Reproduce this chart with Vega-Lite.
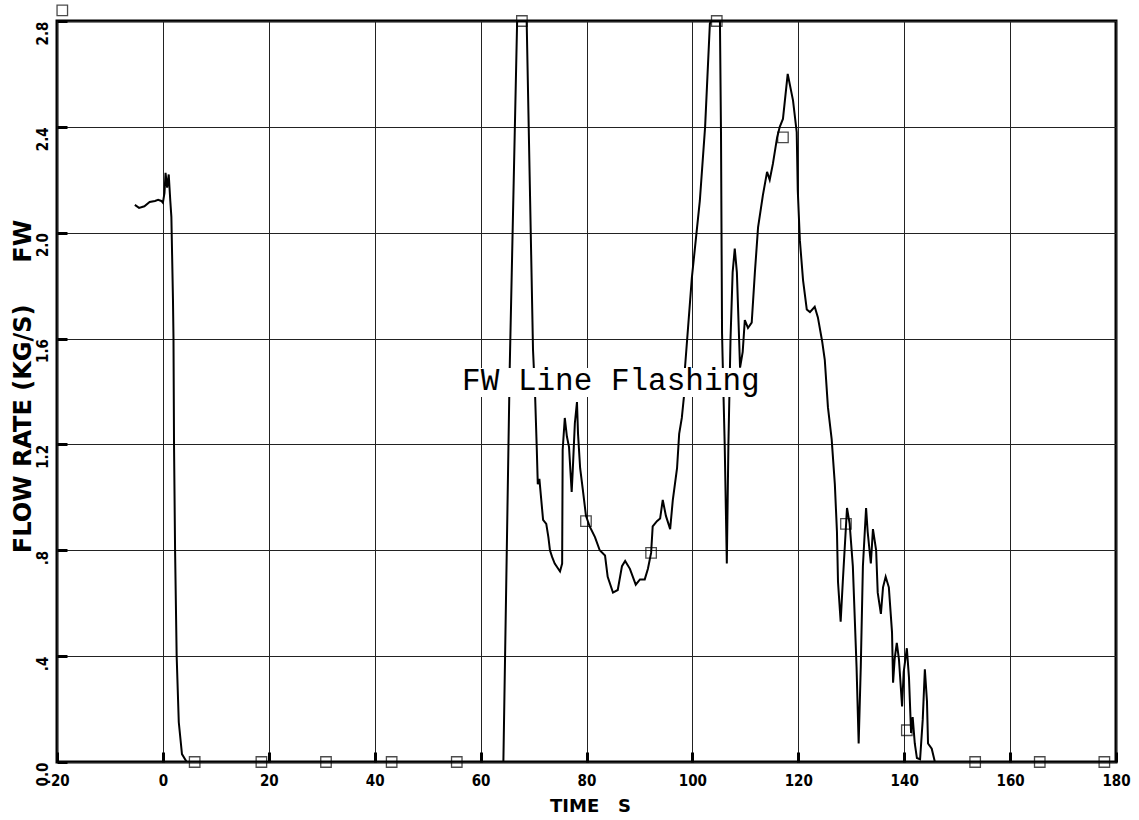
{
  "$schema": "https://vega.github.io/schema/vega-lite/v6.json",
  "width": 1059,
  "height": 741,
  "autosize": "none",
  "padding": {"left": 57, "top": 21, "right": 23, "bottom": 58},
  "background": "white",
  "config": {
    "view": {"stroke": "black", "strokeWidth": 3},
    "font": "DejaVu Sans"
  },
  "datasets": {
    "curve": [
      {"t": -5.3, "fw": 2.105}, {"t": -4.5, "fw": 2.094}, {"t": -3.5, "fw": 2.10}, {"t": -2.5, "fw": 2.116},
      {"t": -1.5, "fw": 2.12}, {"t": -0.9, "fw": 2.124}, {"t": -0.3, "fw": 2.12}, {"t": 0.0, "fw": 2.113},
      {"t": 0.3, "fw": 2.15}, {"t": 0.5, "fw": 2.226}, {"t": 0.8, "fw": 2.17}, {"t": 1.1, "fw": 2.22},
      {"t": 1.4, "fw": 2.12}, {"t": 1.6, "fw": 2.06}, {"t": 1.9, "fw": 1.75}, {"t": 2.0, "fw": 1.6},
      {"t": 2.1, "fw": 1.2}, {"t": 2.3, "fw": 0.8}, {"t": 2.6, "fw": 0.4}, {"t": 3.0, "fw": 0.15},
      {"t": 3.6, "fw": 0.03}, {"t": 4.5, "fw": 0.0}, {"t": 18.6, "fw": 0.0}, {"t": 43.2, "fw": 0.0},
      {"t": 64.3, "fw": 0.0}, {"t": 65.5, "fw": 1.49}, {"t": 66.9, "fw": 2.8}, {"t": 68.7, "fw": 2.8},
      {"t": 69.9, "fw": 1.557}, {"t": 70.3, "fw": 1.38}, {"t": 70.6, "fw": 1.19}, {"t": 70.8, "fw": 1.05},
      {"t": 71.1, "fw": 1.07}, {"t": 71.8, "fw": 0.915}, {"t": 72.4, "fw": 0.90}, {"t": 72.8, "fw": 0.85},
      {"t": 73.1, "fw": 0.80}, {"t": 73.5, "fw": 0.775}, {"t": 74.0, "fw": 0.75}, {"t": 75.0, "fw": 0.72},
      {"t": 75.4, "fw": 0.75}, {"t": 75.5, "fw": 1.18}, {"t": 75.9, "fw": 1.30}, {"t": 76.3, "fw": 1.23},
      {"t": 76.7, "fw": 1.19}, {"t": 77.2, "fw": 1.02}, {"t": 77.4, "fw": 1.10}, {"t": 77.8, "fw": 1.28},
      {"t": 78.2, "fw": 1.36}, {"t": 78.4, "fw": 1.24}, {"t": 78.8, "fw": 1.11}, {"t": 79.3, "fw": 1.03},
      {"t": 79.9, "fw": 0.93}, {"t": 80.6, "fw": 0.89}, {"t": 81.6, "fw": 0.85}, {"t": 82.5, "fw": 0.80},
      {"t": 83.5, "fw": 0.78}, {"t": 84.0, "fw": 0.70}, {"t": 85.0, "fw": 0.64}, {"t": 85.9, "fw": 0.65},
      {"t": 86.7, "fw": 0.74}, {"t": 87.3, "fw": 0.76}, {"t": 88.2, "fw": 0.73}, {"t": 89.3, "fw": 0.67},
      {"t": 90.1, "fw": 0.69}, {"t": 91.0, "fw": 0.69}, {"t": 91.6, "fw": 0.73}, {"t": 92.2, "fw": 0.79},
      {"t": 92.5, "fw": 0.89}, {"t": 93.3, "fw": 0.91}, {"t": 93.9, "fw": 0.92}, {"t": 94.4, "fw": 0.99},
      {"t": 95.0, "fw": 0.93}, {"t": 95.8, "fw": 0.88}, {"t": 96.3, "fw": 0.99}, {"t": 97.1, "fw": 1.11},
      {"t": 97.5, "fw": 1.24}, {"t": 98.0, "fw": 1.30}, {"t": 98.4, "fw": 1.38}, {"t": 98.6, "fw": 1.49},
      {"t": 99.9, "fw": 1.83}, {"t": 101.4, "fw": 2.12}, {"t": 102.4, "fw": 2.40}, {"t": 103.3, "fw": 2.79},
      {"t": 103.5, "fw": 2.8}, {"t": 105.2, "fw": 2.8}, {"t": 105.4, "fw": 2.38}, {"t": 105.6, "fw": 1.62},
      {"t": 105.7, "fw": 1.53}, {"t": 106.1, "fw": 1.2}, {"t": 106.5, "fw": 0.75}, {"t": 106.8, "fw": 1.2},
      {"t": 107.2, "fw": 1.6}, {"t": 107.6, "fw": 1.85}, {"t": 108.0, "fw": 1.94}, {"t": 108.4, "fw": 1.85},
      {"t": 109.0, "fw": 1.49}, {"t": 109.5, "fw": 1.55}, {"t": 109.9, "fw": 1.67}, {"t": 110.5, "fw": 1.64},
      {"t": 111.2, "fw": 1.66}, {"t": 111.8, "fw": 1.85}, {"t": 112.4, "fw": 2.02}, {"t": 113.3, "fw": 2.14},
      {"t": 114.1, "fw": 2.23}, {"t": 114.6, "fw": 2.20}, {"t": 115.2, "fw": 2.26}, {"t": 116.0, "fw": 2.36},
      {"t": 116.5, "fw": 2.40}, {"t": 117.1, "fw": 2.43}, {"t": 118.0, "fw": 2.60}, {"t": 119.0, "fw": 2.50},
      {"t": 119.7, "fw": 2.38}, {"t": 119.9, "fw": 2.16}, {"t": 120.3, "fw": 1.97}, {"t": 120.9, "fw": 1.82},
      {"t": 121.6, "fw": 1.71}, {"t": 122.2, "fw": 1.70}, {"t": 123.1, "fw": 1.72}, {"t": 123.7, "fw": 1.68},
      {"t": 124.5, "fw": 1.59}, {"t": 125.0, "fw": 1.52}, {"t": 125.6, "fw": 1.34}, {"t": 126.3, "fw": 1.22},
      {"t": 126.9, "fw": 1.05}, {"t": 127.3, "fw": 0.87}, {"t": 127.5, "fw": 0.68}, {"t": 128.0, "fw": 0.53},
      {"t": 128.4, "fw": 0.68}, {"t": 129.2, "fw": 0.96}, {"t": 129.7, "fw": 0.90}, {"t": 130.3, "fw": 0.74},
      {"t": 131.0, "fw": 0.36}, {"t": 131.4, "fw": 0.07}, {"t": 131.8, "fw": 0.36}, {"t": 132.2, "fw": 0.74},
      {"t": 132.8, "fw": 0.96}, {"t": 133.1, "fw": 0.87}, {"t": 133.7, "fw": 0.75}, {"t": 134.1, "fw": 0.88},
      {"t": 134.7, "fw": 0.80}, {"t": 135.0, "fw": 0.64}, {"t": 135.6, "fw": 0.56}, {"t": 136.0, "fw": 0.66},
      {"t": 136.5, "fw": 0.70}, {"t": 137.1, "fw": 0.66}, {"t": 137.7, "fw": 0.49}, {"t": 137.9, "fw": 0.30},
      {"t": 138.2, "fw": 0.39}, {"t": 138.6, "fw": 0.45}, {"t": 139.0, "fw": 0.39}, {"t": 139.6, "fw": 0.21},
      {"t": 139.9, "fw": 0.34}, {"t": 140.5, "fw": 0.43}, {"t": 140.9, "fw": 0.32}, {"t": 141.3, "fw": 0.11},
      {"t": 141.6, "fw": 0.17}, {"t": 142.0, "fw": 0.07}, {"t": 142.4, "fw": 0.015}, {"t": 143.0, "fw": 0.01},
      {"t": 143.5, "fw": 0.16}, {"t": 143.9, "fw": 0.35}, {"t": 144.3, "fw": 0.23}, {"t": 144.5, "fw": 0.07},
      {"t": 145.2, "fw": 0.05}, {"t": 145.8, "fw": 0.0}, {"t": 165.6, "fw": 0.0}, {"t": 180.0, "fw": 0.0}
    ],
    "markers": [
      {"t": -19.0, "fw": 2.84}, {"t": 6.0, "fw": 0.0}, {"t": 18.6, "fw": 0.0}, {"t": 30.8, "fw": 0.0},
      {"t": 43.2, "fw": 0.0}, {"t": 55.5, "fw": 0.0}, {"t": 67.8, "fw": 2.8}, {"t": 79.9, "fw": 0.91},
      {"t": 92.2, "fw": 0.79}, {"t": 104.6, "fw": 2.8}, {"t": 117.1, "fw": 2.36}, {"t": 129.0, "fw": 0.90},
      {"t": 140.5, "fw": 0.12}, {"t": 153.4, "fw": 0.0}, {"t": 165.6, "fw": 0.0}, {"t": 177.8, "fw": 0.0}
    ]
  },
  "layer": [
    {
      "data": {"name": "curve"},
      "mark": {"type": "line", "color": "black", "strokeWidth": 2, "clip": true},
      "encoding": {
        "x": {
          "field": "t", "type": "quantitative",
          "scale": {"domain": [-20, 180], "nice": false, "zero": false},
          "axis": {
            "values": [-20, 0, 20, 40, 60, 80, 100, 120, 140, 160, 180],
            "labelExpr": "'' + datum.value",
            "grid": true, "gridColor": "#222", "gridWidth": 1,
            "domain": false,
            "ticks": true, "tickSize": -10, "tickWidth": 3, "tickColor": "black",
            "labelPadding": 21, "labelFont": "DejaVu Sans Condensed, DejaVu Sans", "labelFontSize": 15,
            "labelFontWeight": "bold", "labelColor": "black", "labelFlush": false,
            "title": "TIME\u00a0\u00a0\u00a0S",
            "titleFont": "DejaVu Sans", "titleFontSize": 18, "titleFontWeight": "bold", "titleColor": "black",
            "titleX": 533, "titleY": 49, "titleBaseline": "alphabetic", "titleAlign": "center"
          }
        },
        "y": {
          "field": "fw", "type": "quantitative",
          "scale": {"domain": [0, 2.8], "nice": false, "zero": false},
          "axis": {
            "values": [0, 0.4, 0.8, 1.2, 1.6, 2.0, 2.4, 2.8],
            "labelExpr": "datum.value == 0 ? '0.0' : (datum.value < 1 ? '.' + format(datum.value * 10, 'd') : format(datum.value, '.1f'))",
            "grid": true, "gridColor": "#222", "gridWidth": 1,
            "domain": false,
            "ticks": true, "tickSize": -10, "tickWidth": 3, "tickColor": "black",
            "labelAngle": -90, "labelAlign": "right", "labelBaseline": "bottom",
            "labelPadding": 17, "labelFont": "DejaVu Sans Condensed, DejaVu Sans", "labelFontSize": 15,
            "labelFontWeight": "bold", "labelColor": "black", "labelFlush": false,
            "title": "FLOW RATE (KG/S)\u00a0\u00a0\u00a0\u00a0\u00a0FW",
            "titleFont": "DejaVu Sans", "titleFontSize": 24, "titleFontWeight": "bold", "titleColor": "black",
            "titleAngle": -90, "titleX": -27, "titleY": 365, "titleBaseline": "alphabetic", "titleAlign": "center"
          }
        }
      }
    },
    {
      "data": {"name": "markers"},
      "mark": {"type": "point", "shape": "square", "filled": false, "size": 110, "color": "black", "strokeWidth": 1.3},
      "encoding": {
        "x": {"field": "t", "type": "quantitative"},
        "y": {"field": "fw", "type": "quantitative"}
      }
    },
    {
      "data": {"values": [{}]},
      "mark": {"type": "rect", "color": "white"},
      "encoding": {
        "x": {"datum": 56.0, "type": "quantitative"},
        "x2": {"datum": 115.3},
        "y": {"datum": 1.489, "type": "quantitative"},
        "y2": {"datum": 1.379}
      }
    },
    {
      "data": {"values": [{"label": "FW Line Flashing"}]},
      "mark": {"type": "text", "font": "Liberation Mono", "fontSize": 31, "color": "black", "align": "left", "baseline": "alphabetic"},
      "encoding": {
        "x": {"datum": 56.5, "type": "quantitative"},
        "y": {"datum": 1.406, "type": "quantitative"},
        "text": {"field": "label"}
      }
    }
  ]
}
